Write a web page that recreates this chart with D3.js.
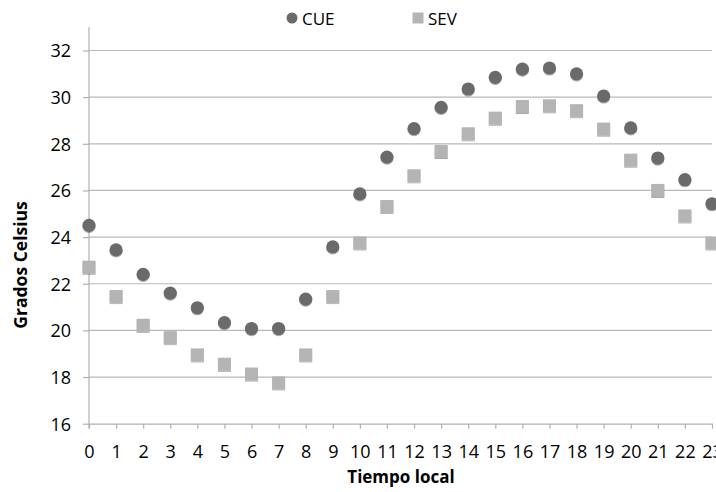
<!DOCTYPE html>
<html>
<head>
<meta charset="utf-8">
<script src="https://cdn.jsdelivr.net/npm/d3@7"></script>
<style>
  html, body { margin: 0; padding: 0; background: #fff; }
  svg text { font-family: "Open Sans", "DejaVu Sans", sans-serif; fill: #000; }
</style>
</head>
<body>
<div id="chart"></div>
<script>
"use strict";
// hours 0..23
var hours = d3.range(0, 24);
var cue = [24.5, 23.45, 22.4, 21.6, 20.97, 20.33, 20.08, 20.08, 21.34, 23.58, 25.85, 27.43,
           28.65, 29.56, 30.35, 30.85, 31.2, 31.25, 31.0, 30.05, 28.68, 27.39, 26.46, 25.43];
var sev = [22.71, 21.45, 20.22, 19.69, 18.95, 18.55, 18.13, 17.75, 18.95, 21.45, 23.75, 25.31,
           26.63, 27.67, 28.43, 29.1, 29.6, 29.63, 29.42, 28.63, 27.3, 26.0, 24.91, 23.75];
var yTicks = [16, 18, 20, 22, 24, 26, 28, 30, 32];
var seriesNames = ["CUE", "SEV"];

var W = 716, H = 492;
var m = {left: 89, right: 4, top: 50.5, bottom: 68.3};

var svg = d3.select("#chart").append("svg")
  .attr("width", W)
  .attr("height", H);

var defs = svg.append("defs");
defs.append("filter")
    .attr("id", "shadow")
    .attr("x", "-30%").attr("y", "-30%")
    .attr("width", "160%").attr("height", "170%")
  .append("feDropShadow")
    .attr("dx", 0)
    .attr("dy", 1)
    .attr("stdDeviation", 0.7)
    .attr("flood-color", "#000")
    .attr("flood-opacity", 0.35);

var x = d3.scaleLinear()
  .domain([0, 23])
  .range([m.left, W - m.right]);
var y = d3.scaleLinear()
  .domain([16, 32])
  .range([H - m.bottom, m.top]);

// grid
svg.append("g")
    .attr("class", "grid")
  .selectAll("line")
  .data(yTicks.filter(function(d) { return d > 16; }))
  .enter()
  .append("line")
    .attr("x1", x(0))
    .attr("x2", x(23))
    .attr("y1", function(d) { return y(d); })
    .attr("y2", function(d) { return y(d); })
    .attr("stroke", "#b8b8b8")
    .attr("stroke-width", 1.2);

// y axis
var yAxis = svg.append("g")
  .attr("transform", "translate(" + x(0) + ",0)")
  .call(d3.axisLeft(y).tickValues(yTicks).tickSize(6).tickPadding(12));
yAxis.select(".domain").attr("stroke", "#b0b0b0").attr("stroke-width", 1.2)
  .attr("d", "M0," + (y(16) + 5) + "V" + 27);
yAxis.selectAll(".tick line").attr("stroke", "#b0b0b0").attr("stroke-width", 1.2);
yAxis.selectAll(".tick text")
  .attr("font-size", 18)
  .attr("fill", "#000")
  .attr("dy", "0.36em");

// x axis
var xAxis = svg.append("g")
  .attr("transform", "translate(0," + y(16) + ")")
  .call(d3.axisBottom(x).tickValues(hours).tickSize(5).tickPadding(17).tickSizeOuter(0));
xAxis.select(".domain").attr("stroke", "#b0b0b0").attr("stroke-width", 1.2);
xAxis.selectAll(".tick line").attr("stroke", "#b0b0b0").attr("stroke-width", 1.2);
xAxis.selectAll(".tick text")
  .attr("font-size", 18)
  .attr("fill", "#000");

// axis titles
svg.append("text")
  .attr("transform", "translate(27," + 265 + ") rotate(-90)")
  .attr("text-anchor", "middle")
  .attr("font-size", 17.5)
  .attr("font-weight", "bold")
  .text("Grados Celsius");

svg.append("text")
  .attr("x", 401)
  .attr("y", 483)
  .attr("text-anchor", "middle")
  .attr("font-size", 17)
  .attr("font-weight", "bold")
  .text("Tiempo local");

// points
var sz = 13;
svg.append("g")
  .selectAll("rect")
  .data(sev)
  .enter()
  .append("rect")
    .attr("x", function(d, i) { return x(hours[i]) - sz / 2; })
    .attr("y", function(d) { return y(d) - sz / 2; })
    .attr("width", sz)
    .attr("height", sz)
    .attr("fill", "#b4b4b4")
    .attr("filter", "url(#shadow)");

svg.append("g")
  .selectAll("circle")
  .data(cue)
  .enter()
  .append("circle")
    .attr("cx", function(d, i) { return x(hours[i]); })
    .attr("cy", function(d) { return y(d); })
    .attr("r", 6.6)
    .attr("fill", "#6a6a6a")
    .attr("filter", "url(#shadow)");

// legend
var leg = svg.append("g");
leg.append("circle")
  .attr("cx", 292)
  .attr("cy", 18)
  .attr("r", 5.5)
  .attr("fill", "#6a6a6a");
leg.append("text")
  .attr("x", 302)
  .attr("y", 24.5)
  .attr("font-size", 17)
  .text(seriesNames[0]);
leg.append("rect")
  .attr("x", 412.5)
  .attr("y", 12.5)
  .attr("width", 11)
  .attr("height", 11)
  .attr("fill", "#b4b4b4");
leg.append("text")
  .attr("x", 428)
  .attr("y", 24.5)
  .attr("font-size", 17)
  .text(seriesNames[1]);
</script>
</body>
</html>
